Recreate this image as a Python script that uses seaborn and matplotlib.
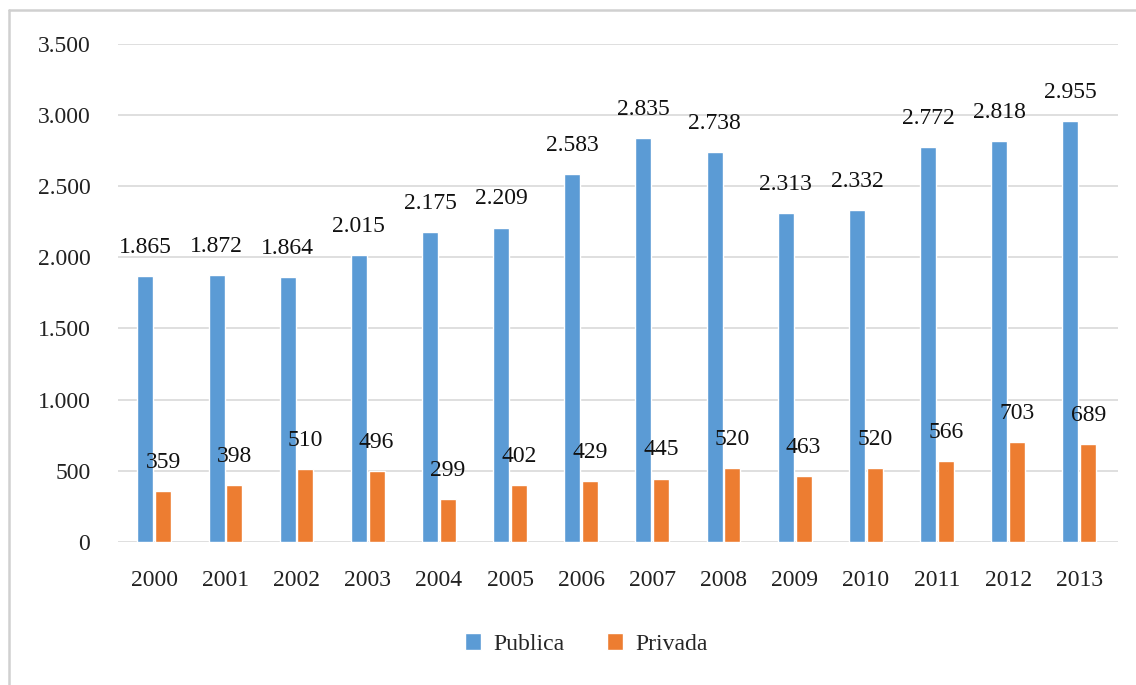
import matplotlib
matplotlib.use("Agg")
import matplotlib.pyplot as plt
import seaborn as sns
import pandas as pd
from matplotlib.ticker import FuncFormatter
from matplotlib.lines import Line2D

years = ["2000", "2001", "2002", "2003", "2004", "2005", "2006",
         "2007", "2008", "2009", "2010", "2011", "2012", "2013"]
publica = [1865, 1872, 1864, 2015, 2175, 2209, 2583, 2835, 2738, 2313, 2332, 2772, 2818, 2955]
privada = [359, 398, 510, 496, 299, 402, 429, 445, 520, 463, 520, 566, 703, 689]
series_names = ["Publica", "Privada"]
colors = ["#5B9BD5", "#ED7D31"]

df = pd.DataFrame({
    "Año": years * 2,
    "Valor": publica + privada,
    "Serie": [series_names[0]] * len(years) + [series_names[1]] * len(years),
})

sns.set_theme(style="white")
plt.rcParams["font.family"] = ["Liberation Serif", "DejaVu Serif"]

fig = plt.figure(figsize=(11.36, 6.85), dpi=100)
ax = fig.add_axes([0.104, 0.209, 0.880, 0.727])

sns.barplot(data=df, x="Año", y="Valor", hue="Serie", order=years,
            hue_order=series_names, palette=colors, width=0.5, gap=0.1,
            saturation=1, ax=ax, legend=True)

ax.set_ylim(0, 3500)
ax.set_xlim(-0.508, 13.542)
ax.set_yticks(range(0, 3501, 500))
fmt = lambda v, p: f"{int(round(v)):,}".replace(",", ".")
ax.yaxis.set_major_formatter(FuncFormatter(fmt))
ax.grid(axis="y", color="#d9d9d9", linewidth=1.2)
ax.set_axisbelow(True)
for s in ax.spines.values():
    s.set_visible(False)
ax.tick_params(axis="both", length=0, labelsize=17, colors="#222222")
ax.tick_params(axis="y", pad=20)
ax.tick_params(axis="x", pad=20)
ax.set_xlabel("")
ax.set_ylabel("")

for cont in ax.containers:
    labels = [fmt(b.get_height(), None) for b in cont]
    ax.bar_label(cont, labels=labels, padding=13, fontsize=17, color="#111111")

leg = ax.legend(loc="center", bbox_to_anchor=(0.468, -0.205), ncol=2,
                frameon=False, fontsize=17, handlelength=0.7, handleheight=0.7,
                columnspacing=1.8, handletextpad=0.5)

fig.add_artist(Line2D([0.008, 1.0], [0.985, 0.985], transform=fig.transFigure,
                      color="#d0d0d0", linewidth=1.8))
fig.add_artist(Line2D([0.008, 0.008], [0.0, 0.985], transform=fig.transFigure,
                      color="#d0d0d0", linewidth=1.8))

fig.savefig("out.png", dpi=100)
